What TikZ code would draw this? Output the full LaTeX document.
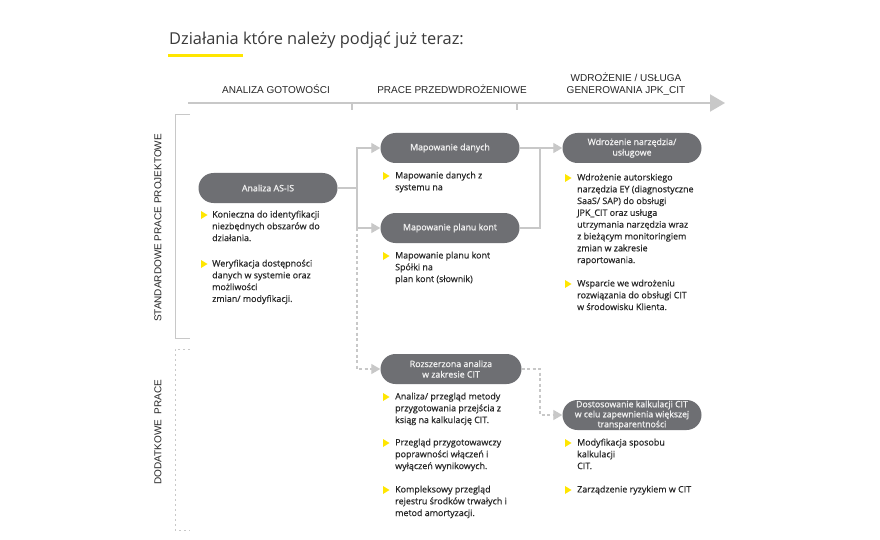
\documentclass[tikz,border=0pt]{standalone}
\usepackage{fontspec}
\setmainfont{Open Sans}
\newfontfamily\headfont{Liberation Sans}
\newfontfamily\pillfam{Open Sans}[FakeBold=1.1]
\newfontfamily\bodyfam{Open Sans}[FakeBold=0.35]
\usetikzlibrary{arrows.meta}
\definecolor{pillgrey}{HTML}{6E6F73}
\definecolor{linegrey}{HTML}{C8C8C8}
\definecolor{bodygrey}{HTML}{262626}
\definecolor{titlegrey}{HTML}{3A3A3A}
\definecolor{eyyellow}{HTML}{FFE600}
\newcommand\ybul[1]{\fill[eyyellow] (#1) ++(0,-4) -- ++(6.5,4) -- ++(-6.5,4) -- cycle;}
\tikzset{
  pill/.style={rounded corners=15pt, fill=pillgrey, text=white!94!black, minimum width=139pt,
    minimum height=30pt, inner sep=0pt, align=center, font=\pillfam\fontsize{8.8}{10.5}\selectfont},
  conn/.style={draw=linegrey, line width=1.3pt},
  arr/.style={-{Triangle[length=9pt,width=10pt]}},
  dashline/.style={dash pattern=on 3pt off 2.5pt},
  body/.style={anchor=north west, align=left, inner sep=0pt, text=bodygrey,
    font=\bodyfam\fontsize{8.9}{11.8}\selectfont},
  head/.style={align=center, inner sep=0pt, text=bodygrey, font=\headfont\fontsize{10}{12}\selectfont},
  side/.style={rotate=90, inner sep=0pt, text=bodygrey, font=\headfont\fontsize{10}{12}\selectfont}
}
\begin{document}
\begin{tikzpicture}[x=1pt,y=-1pt]
\useasboundingbox (0,0) rectangle (880,540);
\fill[white] (0,0) rectangle (880,540);

% title
\node[anchor=west, inner sep=0pt, text=titlegrey, font=\fontsize{16.4}{19}\selectfont] (title) at (169,40) {Działania które należy podjąć już teraz:};
\draw[eyyellow, line width=3pt] (168,56) -- (243,56);

% timeline
\coordinate (tlstart) at (188,103);
\coordinate (tlend) at (725,103);
\draw[linegrey, line width=2pt, -{Triangle[length=15pt,width=17pt]}] (tlstart) -- (tlend);
\draw[linegrey, line width=1.3pt] (352,103) -- (352,110);
\draw[linegrey, line width=1.3pt] (517,103) -- (517,110);

\node[head] (h1) at (276,89) {ANALIZA GOTOWOŚCI};
\node[head] (h2) at (452,89) {PRACE PRZEDWDROŻENIOWE};
\node[head] (h3) at (626,84) {WDROŻENIE / USŁUGA\\GENEROWANIA JPK\_CIT};

% side brackets
\draw[linegrey, line width=1pt] (190,115) -- (175,115) -- (175,338) -- (190,338);
\draw[linegrey, line width=1pt, dash pattern=on 2pt off 3pt] (190,349) -- (175,349) -- (175,530) -- (190,530);
\node[side] (lab1) at (158,228) {STANDARDOWE PRACE PROJEKTOWE};
\node[side] (lab2) at (158,432) {DODATKOWE\ \ PRACE};

% pills
\node[pill] (asis) at (268,188) {Analiza AS-IS};
\node[pill] (mapd) at (450,148) {Mapowanie danych};
\node[pill] (mapp) at (450,228) {Mapowanie planu kont};
\node[pill] (wdr) at (632,148) {Wdrożenie narzędzia/\\usługowe};
\node[pill, minimum width=141pt] (roz) at (451,369) {Rozszerzona analiza\\w zakresie CIT};
\node[pill, font=\pillfam\fontsize{8.7}{10}\selectfont] (dost) at (632,415) {Dostosowanie kalkulacji CIT\\w celu zapewnienia większej\\transparentności};

% connectors
\coordinate (j1) at (357,188);
\draw[conn] (asis.east) -- (j1);
\draw[conn, arr] (j1) |- (mapd.west);
\draw[conn, arr] (j1) |- (mapp.west);
\draw[conn, dashline, arr] (j1 |- mapp.west) |- (roz.west);
\coordinate (j2) at (540,148);
\draw[conn, arr] (mapd.east) -- (wdr.west);
\draw[conn] (mapp.east) -| (j2);
\coordinate (j3) at (540,415);
\draw[conn, dashline, arr] (roz.east) -| (j3) -- (dost.west);

% bullets column 1
\ybul{201,215}
\node[body] (t1) at (212,210.5) {Konieczna do identyfikacji\\niezbędnych obszarów do\\działania.};
\ybul{201,264}
\node[body] (t2) at (212,259.5) {Weryfikacja dostępności\\danych w systemie oraz\\możliwości\\zmian/ modyfikacji.};

% column 2
\ybul{383,176}
\node[body] (t3) at (395,171.5) {Mapowanie danych z\\systemu na};
\ybul{383,256}
\node[body] (t4) at (395,251.5) {Mapowanie planu kont\\Spółki na\\plan kont (słownik)};
\ybul{383,397}
\node[body] (t5) at (395,392.5) {Analiza/ przegląd metody\\przygotowania przejścia z\\ksiąg na kalkulację CIT.};
\ybul{383,443}
\node[body] (t6) at (395,438.5) {Przegląd przygotowawczy\\poprawności włączeń i\\wyłączeń wynikowych.};
\ybul{383,490}
\node[body] (t7) at (395,485.5) {Kompleksowy przegląd\\rejestru środków trwałych i\\metod amortyzacji.};

% column 3
\ybul{565,178}
\node[body] (t8) at (577,173.5) {Wdrożenie autorskiego\\narzędzia EY (diagnostyczne\\SaaS/ SAP) do obsługi\\JPK\_CIT oraz usługa\\utrzymania narzędzia wraz\\z bieżącym monitoringiem\\zmian w zakresie\\raportowania.};
\ybul{565,284}
\node[body] (t9) at (577,279.5) {Wsparcie we wdrożeniu\\rozwiązania do obsługi CIT\\w środowisku Klienta.};
\ybul{565,443}
\node[body] (t10) at (577,438.5) {Modyfikacja sposobu\\kalkulacji\\CIT.};
\ybul{565,490}
\node[body] (t11) at (577,485.5) {Zarządzenie ryzykiem w CIT};
\end{tikzpicture}
\end{document}
